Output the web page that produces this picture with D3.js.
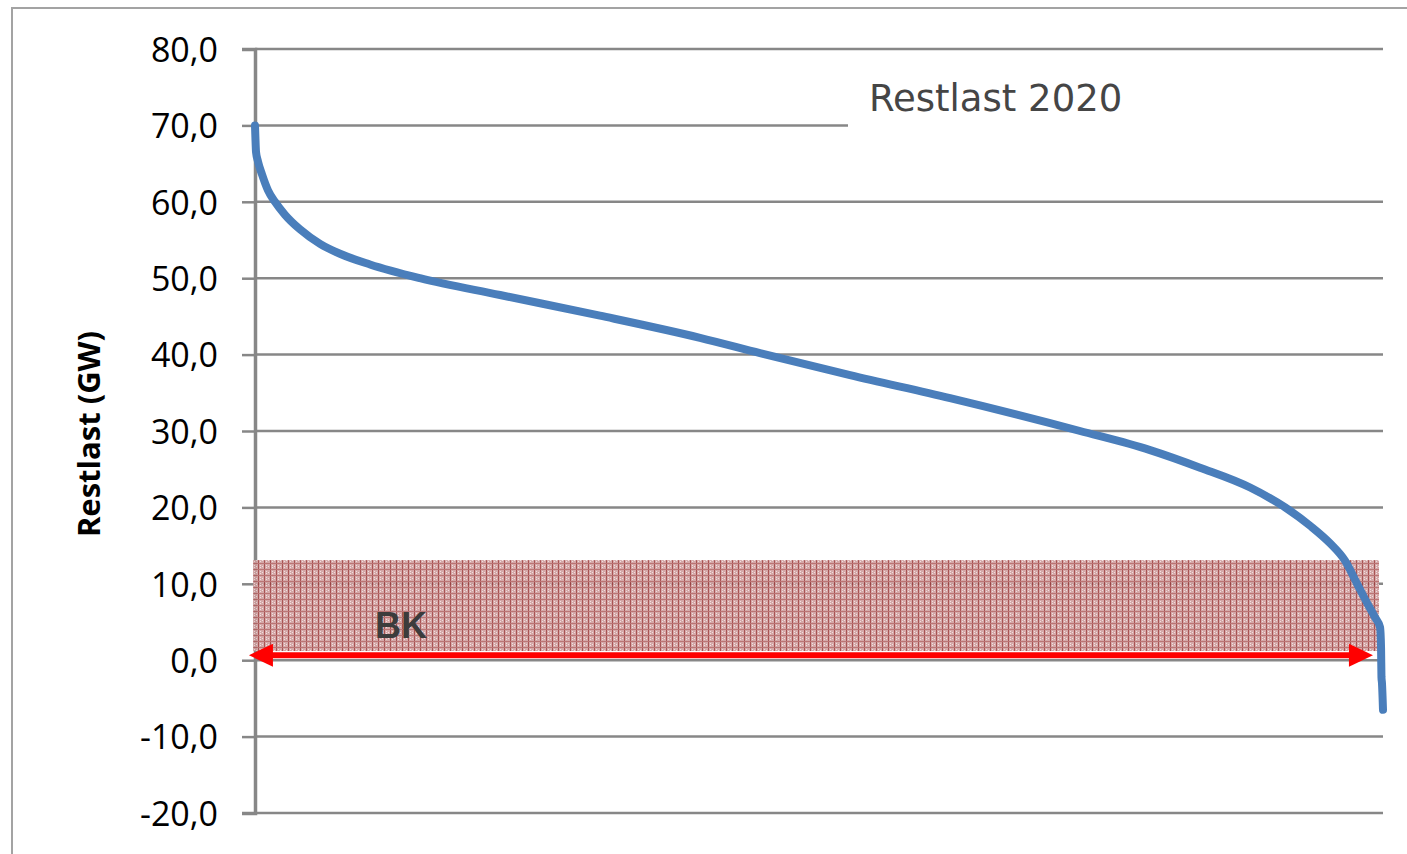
<!DOCTYPE html>
<html>
<head>
<meta charset="utf-8">
<script src="https://cdn.jsdelivr.net/npm/d3@7"></script>
<style>
  html, body { margin: 0; padding: 0; background: #fff; }
  svg { display: block; }
</style>
</head>
<body>
<svg id="chart" width="1407" height="854"></svg>
<script>
// ---- data ----
const title = "Restlast 2020";
const yLabel = "Restlast (GW)";
const yTicks = [-20, -10, 0, 10, 20, 30, 40, 50, 60, 70, 80];
// sorted residual load (duration curve): hour of year -> GW
const hours = [0, 3, 8, 23, 54, 101, 155, 233, 349, 505, 660, 893, 1281, 1903, 2679, 3456, 3922, 4621, 5398, 6407, 6951, 7339, 7728, 8000, 8194, 8349, 8466, 8559, 8636, 8698, 8737, 8745, 8748, 8752, 8760];
const load  = [70.0, 68.5, 66.5, 65.3, 63.6, 61.5, 60.0, 58.3, 56.4, 54.5, 53.2, 51.8, 50.0, 47.8, 45.1, 42.2, 40.2, 37.3, 34.3, 30.0, 27.5, 25.2, 22.6, 20.0, 17.6, 15.3, 13.0, 10.0, 7.5, 5.6, 4.3, 1.5, -2.2, -3.0, -6.5];
// BK band annotation (hours / GW)
const bandHours = [-15, 8729];
const bandLoad = [1.2, 13.1];
const arrowHours = [-47, 8682];
const arrowLoad = 0.65;
const bkLabel = "BK";
const bkPos = [932, 4.6];

// ---- layout ----
const svg = d3.select("#chart");
const x = d3.scaleLinear().domain([0, 8760]).range([255, 1383]);
const y = d3.scaleLinear().domain([-20, 80]).range([813, 49]);

const gridColor = "#878787";

// outer chart border
svg.append("path")
  .attr("d", "M12,854 L12,8 L1407,8")
  .attr("fill", "none").attr("stroke", "#a3a3a3").attr("stroke-width", 2);

// gridlines
svg.append("g").selectAll("line").data(yTicks).join("line")
  .attr("x1", x(0)).attr("x2", x(8760))
  .attr("y1", d => y(d)).attr("y2", d => y(d))
  .attr("stroke", gridColor).attr("stroke-width", 2.5);

// y axis
const yAxis = d3.axisLeft(y).tickValues(yTicks).tickSize(13).tickPadding(24)
  .tickFormat(d => d3.format(".1f")(d).replace(".", ",").replace("−", "-"));
const ga = svg.append("g").attr("transform", `translate(${x(0)},0)`).call(yAxis);
ga.select(".domain").attr("stroke", gridColor).attr("stroke-width", 3.5);
ga.selectAll(".tick line").attr("stroke", gridColor).attr("stroke-width", 2.5);
ga.selectAll(".tick text")
  .attr("font-family", "'Open Sans', sans-serif").attr("font-size", 34)
  .attr("fill", "#000").attr("dy", "0.36em");

// title box (covers grid)
svg.append("rect").attr("x", 848).attr("y", 52).attr("width", 545).attr("height", 100).attr("fill", "#fff");
svg.append("text").attr("x", 869).attr("y", 111)
  .attr("font-family", "'DejaVu Sans', Verdana, sans-serif").attr("font-size", 37)
  .attr("fill", "#454545").text(title);

// pattern for band
const defs = svg.append("defs");
const pat = defs.append("pattern").attr("id", "hatch")
  .attr("patternUnits", "userSpaceOnUse").attr("width", 6).attr("height", 6);
pat.append("rect").attr("width", 6).attr("height", 6).attr("fill", "#cf9c9c");
pat.append("rect").attr("x", 2).attr("y", 1).attr("width", 1).attr("height", 1).attr("fill", "#efdada");
pat.append("rect").attr("x", 4).attr("y", 2).attr("width", 1).attr("height", 1).attr("fill", "#efdada");
pat.append("rect").attr("x", 2).attr("y", 3).attr("width", 1).attr("height", 1).attr("fill", "#efdada");
pat.append("rect").attr("x", 0).attr("y", 0).attr("width", 1).attr("height", 6).attr("fill", "#9c3c3c");
pat.append("rect").attr("x", 0).attr("y", 5).attr("width", 6).attr("height", 1).attr("fill", "#b26262");

svg.append("rect")
  .attr("x", x(bandHours[0])).attr("y", y(bandLoad[1]))
  .attr("width", x(bandHours[1]) - x(bandHours[0]))
  .attr("height", y(bandLoad[0]) - y(bandLoad[1]))
  .attr("fill", "url(#hatch)").attr("opacity", 0.88);

// BK label
svg.append("text").attr("x", x(bkPos[0])).attr("y", y(bkPos[1])).attr("dy", "0.36em")
  .attr("font-family", "'Liberation Sans', Arial, sans-serif").attr("font-weight", "bold")
  .attr("font-size", 36).attr("fill", "#3c3c3c").text(bkLabel);

// double arrow
const ay = y(arrowLoad);
const ax0 = x(arrowHours[0]), ax1 = x(arrowHours[1]);
const headL = 24, headH = 11.5;
svg.append("line").attr("x1", ax0 + headL - 2).attr("x2", ax1 - headL + 2)
  .attr("y1", ay).attr("y2", ay).attr("stroke", "#ff0000").attr("stroke-width", 6);
svg.append("path").attr("fill", "#ff0000")
  .attr("d", `M${ax0},${ay} L${ax0 + headL},${ay - headH} L${ax0 + headL},${ay + headH} Z`);
svg.append("path").attr("fill", "#ff0000")
  .attr("d", `M${ax1},${ay} L${ax1 - headL},${ay - headH} L${ax1 - headL},${ay + headH} Z`);

// curve
const pts = hours.map((h, i) => [h, load[i]]);
svg.append("path").datum(pts)
  .attr("d", d3.line().x(d => x(d[0])).y(d => y(d[1])).curve(d3.curveMonotoneX))
  .attr("fill", "none").attr("stroke", "#4a7ebb").attr("stroke-width", 8)
  .attr("stroke-linecap", "round").attr("stroke-linejoin", "round");

// y label
svg.append("text")
  .attr("transform", `translate(100,434) rotate(-90)`)
  .attr("text-anchor", "middle")
  .attr("font-family", "'Open Sans', sans-serif").attr("font-weight", "bold")
  .attr("font-size", 31).attr("fill", "#000").text(yLabel);
</script>
</body>
</html>
